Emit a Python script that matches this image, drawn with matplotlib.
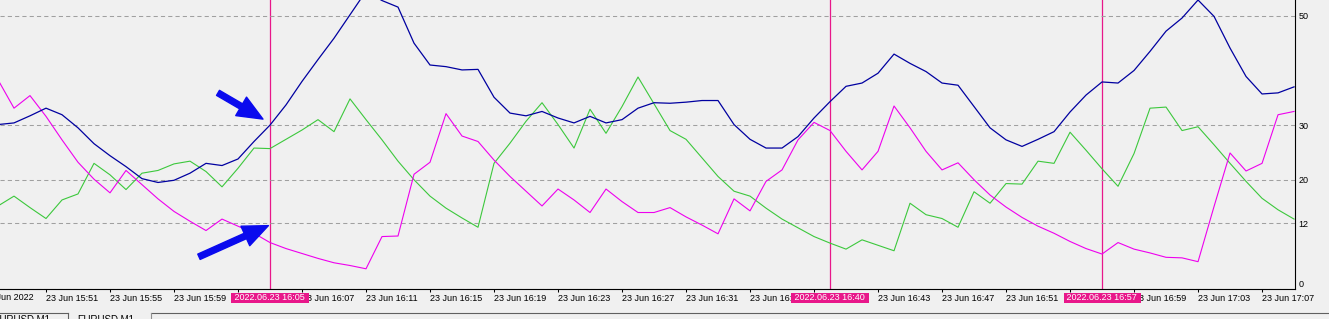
import numpy as np
import matplotlib.pyplot as plt
from matplotlib.lines import Line2D

# one bar per minute, 15:48 .. 17:09 (minutes after midnight)
first_bar = 15 * 60 + 48

blue_vals = [30.1, 30.4, 31.7, 33.1, 31.9, 29.5, 26.6, 24.4, 22.4, 20.2,
             19.5, 19.9, 21.2, 23.0, 22.6, 23.8, 27.0, 30.0, 33.7, 38.0,
             42.0, 45.9, 50.2, 54.5, 52.8, 51.6, 45.0, 41.0, 40.7, 40.1,
             40.2, 35.1, 32.2, 31.7, 32.5, 31.3, 30.4, 31.6, 30.4, 31.0,
             33.1, 34.1, 34.0, 34.2, 34.5, 34.5, 30.1, 27.4, 25.8, 25.8,
             27.9, 31.3, 34.3, 37.1, 37.7, 39.5, 43.0, 41.3, 39.8, 37.7,
             37.3, 33.4, 29.5, 27.3, 26.1, 27.4, 28.8, 32.4, 35.5, 37.9,
             37.7, 40.0, 43.5, 47.2, 49.6, 52.9, 49.9, 44.1, 38.9, 35.7,
             35.9, 37.0]
magenta_vals = [38.3, 33.1, 35.4, 31.6, 27.3, 23.2, 20.1, 17.6, 21.7, 19.1,
                16.5, 14.2, 12.4, 10.7, 12.8, 11.5, 10.2, 8.5, 7.4, 6.5,
                5.6, 4.8, 4.3, 3.7, 9.6, 9.7, 21.0, 23.2, 32.1, 28.0,
                27.0, 23.6, 20.6, 17.9, 15.2, 18.3, 16.3, 14.0, 18.3, 16.0,
                14.0, 14.0, 14.9, 13.2, 11.7, 10.1, 16.5, 14.3, 19.7, 21.8,
                27.3, 30.5, 29.0, 25.2, 21.8, 25.2, 33.5, 29.5, 25.2, 21.8,
                23.1, 20.0, 17.2, 15.0, 13.1, 11.5, 10.2, 8.7, 7.4, 6.4,
                8.5, 7.3, 6.6, 5.8, 5.7, 5.0, 15.1, 24.9, 21.6, 23.0,
                31.9, 32.5]
green_vals = [15.2, 17.0, 14.9, 12.9, 16.3, 17.4, 23.0, 20.9, 18.2, 21.2,
              21.7, 22.9, 23.4, 21.5, 18.7, 22.1, 25.8, 25.7, 27.4, 29.1,
              31.0, 28.8, 34.8, 31.0, 27.3, 23.4, 20.0, 17.0, 14.8, 13.0,
              11.3, 23.0, 26.7, 30.7, 34.1, 30.1, 25.8, 32.9, 28.5, 33.4,
              38.8, 33.9, 29.0, 27.4, 24.0, 20.6, 17.9, 17.0, 14.8, 12.8,
              11.2, 9.6, 8.4, 7.3, 9.0, 8.0, 7.0, 15.7, 13.6, 12.9,
              11.3, 17.8, 15.7, 19.3, 19.2, 23.4, 23.0, 28.7, 25.4, 22.0,
              18.8, 24.8, 33.1, 33.3, 29.0, 29.7, 26.4, 23.0, 19.7, 16.6,
              14.5, 12.8]
bar_minutes = np.arange(first_bar, first_bar + len(blue_vals))

tick_minutes = [947, 951, 955, 959, 963, 967, 971, 975, 979, 983, 987,
                991, 995, 999, 1003, 1007, 1011, 1015, 1019, 1023, 1027]
tick_labels = ['23 Jun 2022', '23 Jun 15:51', '23 Jun 15:55', '23 Jun 15:59',
               '23 Jun 16:03', '23 Jun 16:07', '23 Jun 16:11', '23 Jun 16:15',
               '23 Jun 16:19', '23 Jun 16:23', '23 Jun 16:27', '23 Jun 16:31',
               '23 Jun 16:35', '23 Jun 16:39', '23 Jun 16:43', '23 Jun 16:47',
               '23 Jun 16:51', '23 Jun 16:55', '23 Jun 16:59', '23 Jun 17:03',
               '23 Jun 17:07']
y_ticks = [0, 12, 20, 30, 50]

marked_minutes = [965, 1000, 1017]
marked_labels = ['2022.06.23 16:05', '2022.06.23 16:40', '2022.06.23 16:57']

bg = '#f0f0f0'
mark_color = '#e8178a'

plt.rcParams['font.family'] = ['Liberation Sans', 'DejaVu Sans']
fig = plt.figure(figsize=(13.29, 3.19), dpi=100, facecolor=bg)
ax = fig.add_axes([0, 30 / 319, 1295 / 1329, 289 / 319])
ax.set_facecolor(bg)

for t in marked_minutes:
    ax.axvline(t, color=mark_color, lw=0.9, zorder=1.5)

ax.plot(bar_minutes, green_vals, color='#3cc83c', lw=0.8, zorder=2)
ax.plot(bar_minutes, magenta_vals, color='#ee00ee', lw=0.8, zorder=2)
ax.plot(bar_minutes, blue_vals, color='#0000a0', lw=0.9, zorder=2)

for side in ['left', 'top']:
    ax.spines[side].set_visible(False)
for side in ['right', 'bottom']:
    ax.spines[side].set_color('black')
    ax.spines[side].set_linewidth(0.8)

ax.set_xticks(tick_minutes, tick_labels)
ax.tick_params(axis='x', length=2.2, width=0.75, pad=1.5, labelsize=6.5)
for lbl in ax.get_xticklabels():
    lbl.set_ha('left')

ax.yaxis.tick_right()
ax.set_yticks(y_ticks)
ax.tick_params(axis='y', length=0, pad=2.5, labelsize=6.5)
ax.get_yticklabels()[0].set_va('bottom')
ax.grid(axis='y', color='#a0a0a0', lw=0.75, linestyle=(0, (4, 3)))
ax.grid(axis='x', visible=False)

# limits after the ticks, otherwise set_xticks widens the view
ax.set_xlim(948.125, 1029.06)
ax.set_ylim(0, 52.9)

# the first tick sits just left of the view, its label is only half visible
ax.text(tick_minutes[0] + 0.1, -0.031, tick_labels[0], transform=ax.get_xaxis_transform(),
        ha='left', va='center', fontsize=6.5, clip_on=False)

for t, lbl in zip(marked_minutes, marked_labels):
    ax.text(t, -0.031, ' ' + lbl + ' ', transform=ax.get_xaxis_transform(),
            ha='center', va='center', color='white', fontsize=6.5,
            bbox=dict(boxstyle='square,pad=0.1', fc=mark_color, ec='none'),
            zorder=5, clip_on=False)

# the two hand-drawn arrows pointing at the 16:05 line
arrow_style = dict(arrowstyle='simple,head_length=1.3,head_width=1.1,tail_width=0.3',
                   mutation_scale=14, color='#0a0aee', shrinkA=0, shrinkB=0)
ax.annotate('', xy=(964.56, 31.1), xytext=(961.75, 35.9), arrowprops=arrow_style)
ax.annotate('', xy=(964.9, 11.6), xytext=(960.56, 5.9), arrowprops=arrow_style)

# tab strip at the bottom edge
y_line = (319 - 312.5) / 319
fig.add_artist(Line2D([0, 68 / 1329], [y_line, y_line], color='#606060', lw=0.8))
fig.add_artist(Line2D([151 / 1329, 1], [y_line, y_line], color='#606060', lw=0.8))
fig.add_artist(Line2D([68 / 1329, 68 / 1329], [0, y_line], color='#606060', lw=0.8))
fig.add_artist(Line2D([151 / 1329, 151 / 1329], [0, y_line], color='#909090', lw=0.8))
fig.text(-7 / 1329, (319 - 314.5) / 319, 'EURUSD,M1', fontsize=7, va='top', ha='left')
fig.text(77 / 1329, (319 - 314.5) / 319, 'EURUSD,M1', fontsize=7, va='top', ha='left')

fig.savefig('out.png', dpi=100, facecolor=bg)
